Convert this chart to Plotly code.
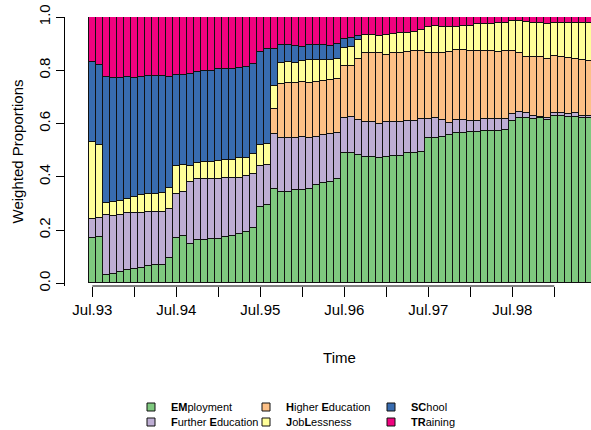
import plotly.graph_objects as go

months = ["Jul.93","Aug.93","Sep.93","Oct.93","Nov.93","Dec.93","Jan.94","Feb.94","Mar.94","Apr.94","May.94","Jun.94",
          "Jul.94","Aug.94","Sep.94","Oct.94","Nov.94","Dec.94","Jan.95","Feb.95","Mar.95","Apr.95","May.95","Jun.95",
          "Jul.95","Aug.95","Sep.95","Oct.95","Nov.95","Dec.95","Jan.96","Feb.96","Mar.96","Apr.96","May.96","Jun.96",
          "Jul.96","Aug.96","Sep.96","Oct.96","Nov.96","Dec.96","Jan.97","Feb.97","Mar.97","Apr.97","May.97","Jun.97",
          "Jul.97","Aug.97","Sep.97","Oct.97","Nov.97","Dec.97","Jan.98","Feb.98","Mar.98","Apr.98","May.98","Jun.98",
          "Jul.98","Aug.98","Sep.98","Oct.98","Nov.98","Dec.98","Jan.99","Feb.99","Mar.99","Apr.99","May.99","Jun.99"]

employment = [.17,.175,.033,.035,.042,.05,.055,.058,.064,.067,.07,.094,
              .171,.179,.149,.161,.164,.165,.166,.175,.179,.184,.194,.208,
              .288,.294,.353,.344,.344,.35,.35,.353,.371,.375,.379,.39,
              .488,.491,.481,.475,.475,.471,.475,.478,.478,.488,.488,.494,
              .544,.546,.55,.556,.563,.566,.569,.569,.573,.573,.573,.575,
              .609,.621,.619,.616,.619,.615,.628,.628,.624,.625,.621,.621]
further_ed = [.07,.07,.222,.217,.216,.213,.209,.205,.203,.20,.199,.185,
              .163,.164,.23,.229,.227,.226,.225,.221,.216,.213,.21,.202,
              .153,.152,.209,.20,.20,.194,.20,.193,.179,.181,.18,.176,
              .131,.132,.132,.131,.129,.129,.129,.128,.128,.121,.123,.122,
              .072,.075,.063,.047,.05,.047,.04,.04,.043,.043,.043,.041,
              .025,.023,.019,.013,.006,.006,.013,.01,.01,.013,.008,.008]
higher_ed = [0,0,0,0,0,0,0,0,0,0,0,0,
             0,0,0,0,0,0,0,0,0,0,0,0,
             0,0,.093,.206,.208,.208,.206,.208,.206,.204,.204,.203,
             .196,.193,.228,.257,.262,.263,.255,.26,.26,.26,.26,.255,
             .247,.245,.253,.266,.262,.262,.262,.262,.255,.255,.253,.257,
             .237,.219,.212,.221,.225,.22,.212,.212,.212,.206,.209,.205]
joblessness = [.29,.275,.048,.053,.052,.052,.061,.07,.068,.07,.071,.079,
               .107,.103,.062,.06,.063,.065,.068,.067,.068,.072,.068,.077,
               .078,.079,.086,.079,.079,.077,.078,.084,.082,.078,.075,.075,
               .069,.072,.072,.068,.065,.066,.075,.072,.075,.072,.073,.079,
               .10,.10,.097,.094,.088,.091,.095,.104,.104,.104,.109,.105,
               .113,.121,.131,.129,.128,.134,.126,.129,.132,.134,.14,.144]
school = [.30,.30,.471,.466,.462,.46,.447,.443,.443,.443,.437,.418,
          .34,.337,.344,.344,.342,.341,.344,.341,.342,.34,.341,.338,
          .351,.353,.14,.065,.063,.062,.054,.056,.056,.056,.053,.054,
          .035,.035,.016,.002,0,0,0,0,0,0,0,0,
          0,0,0,0,0,0,0,0,0,0,0,0,
          0,0,0,0,0,0,0,0,0,0,0,0]
training = [.17,.18,.226,.229,.228,.225,.228,.224,.222,.22,.223,.224,
            .219,.217,.215,.206,.204,.203,.197,.196,.195,.191,.187,.175,
            .13,.122,.119,.106,.106,.109,.112,.106,.106,.106,.109,.102,
            .081,.077,.071,.067,.069,.071,.066,.062,.059,.059,.056,.05,
            .037,.034,.037,.037,.037,.034,.034,.025,.025,.025,.022,.022,
            .016,.016,.019,.021,.022,.025,.021,.021,.022,.022,.022,.022]

state_names = ["<b>EM</b>ployment", "<b>F</b>urther <b>E</b>ducation", "<b>H</b>igher <b>E</b>ducation",
               "<b>J</b>ob<b>L</b>essness", "<b>SC</b>hool", "<b>TR</b>aining"]
state_values = [employment, further_ed, higher_ed, joblessness, school, training]
state_colors = ["#7FC97F", "#BEAED4", "#FDC086", "#FFFF99", "#386CB0", "#F0027F"]

tick_idx = list(range(0, 67, 6))
tick_text = [months[i] if i % 12 == 0 else "" for i in tick_idx]

FONT = "Liberation Sans, Arial, Helvetica, sans-serif"
W, H = 591, 430
ML, MR, MT, MB = 64, 0, 17, 144
PW = W - ML - MR
PH = H - MT - MB
BAR_LEFT = 88

fig = go.Figure()
xs = list(range(len(months)))
for name, vals, col in zip(state_names, state_values, state_colors):
    fig.add_trace(go.Bar(x=xs, y=vals, width=1, name=name, showlegend=False,
                         marker=dict(color=col, line=dict(color="#111111", width=1))))

# legend: 3 columns x 2 rows (column-major like R), positions of the key boxes in pixels
legend_pos = [(151, 407), (151, 422), (266, 407), (266, 422), (391, 407), (391, 422)]
layout_legends = {}
for k, (name, col, (bx, by)) in enumerate(zip(state_names, state_colors, legend_pos)):
    lname = "legend" if k == 0 else f"legend{k+1}"
    fig.add_trace(go.Scatter(x=[None], y=[None], mode="markers", name=name, legend=lname,
                             marker=dict(symbol="square", size=8, color=col,
                                         line=dict(color="#111111", width=1))))
    layout_legends[lname] = dict(
        xref="container", yref="container",
        x=(bx - 20) / W, y=1 - by / H, xanchor="left", yanchor="middle",
        bgcolor="rgba(0,0,0,0)", borderwidth=0, font=dict(family=FONT, size=11, color="#000"),
        itemwidth=30, orientation="v")

fig.update_layout(
    width=W, height=H, margin=dict(l=ML, r=MR, t=MT, b=MB, pad=0, autoexpand=False),
    paper_bgcolor="white", plot_bgcolor="white",
    barmode="stack", bargap=0,
    font=dict(family=FONT, size=15, color="#000"),
    xaxis=dict(domain=[(BAR_LEFT - ML) / PW, 1], range=[-0.614, 71.243], showgrid=False, zeroline=False,
               showline=False, ticks="outside", ticklen=10, tickcolor="#000", tickwidth=1,
               tickmode="array", tickvals=tick_idx, ticktext=tick_text,
               tickfont=dict(size=15), title=dict(text="Time", standoff=35, font=dict(size=15))),
    yaxis=dict(range=[-0.01, 1], anchor="free", position=0, showgrid=False, zeroline=False,
               showline=True, linecolor="#000", linewidth=1, ticks="outside", ticklen=8,
               tickcolor="#000", tickmode="array", tickvals=[0, 0.2, 0.4, 0.6, 0.8, 1.0],
               ticktext=["0.0", "0.2", "0.4", "0.6", "0.8", "1.0"], tickangle=-90,
               tickfont=dict(size=15)),
    annotations=[dict(text="Weighted Proportions", textangle=-90, showarrow=False,
                      xref="paper", yref="paper", x=(17 - ML) / PW, y=0.5,
                      xanchor="center", yanchor="middle", font=dict(family=FONT, size=15, color="#000"))],
    shapes=[dict(type="line", xref="x", yref="paper", x0=tick_idx[0], x1=tick_idx[-1], y0=0, y1=0,
                 line=dict(color="#000", width=1))],
    **layout_legends,
)

fig.write_html("out.html", config={"displayModeBar": False},
               post_script="document.body.style.margin='0px';")
